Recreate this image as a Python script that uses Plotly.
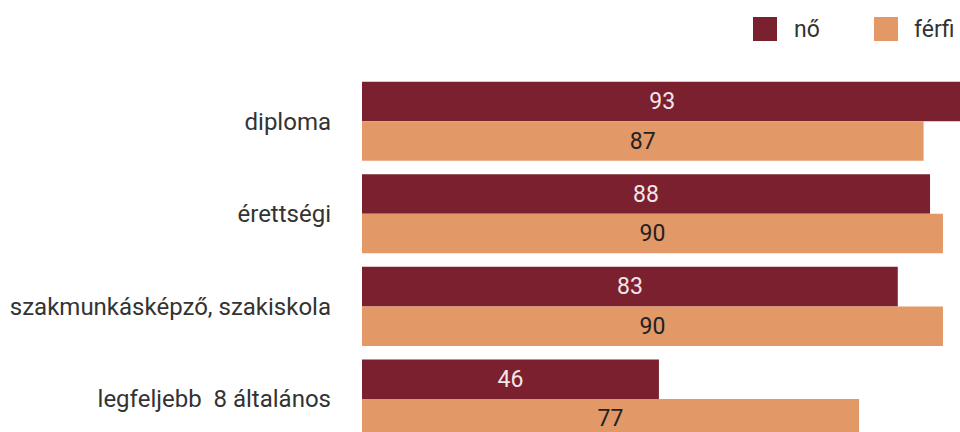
import plotly.graph_objects as go

categories = ["diploma", "érettségi", "szakmunkásképző, szakiskola", "legfeljebb \u00a08 általános"]
series_names = ["nő", "férfi"]
no_values = [93, 88, 83, 46]
ferfi_values = [87, 90, 90, 77]
colors = ["#7B202E", "#E29867"]
text_colors = ["#F3E6E8", "#222222"]

FONT = "Roboto, DejaVu Sans, sans-serif"
W, H = 960, 432
ML, MT = 362, 75
PW, PH = W - ML, H - MT

fig = go.Figure()
for name, vals, col, tcol in zip(series_names, [no_values, ferfi_values], colors, text_colors):
    fig.add_trace(go.Bar(
        y=categories, x=vals, name=name, orientation="h",
        marker=dict(color=col, line=dict(width=0)),
        text=vals, textposition="inside", insidetextanchor="middle",
        textfont=dict(size=23, color=tcol, family=FONT),
        showlegend=False, cliponaxis=True, hoverinfo="skip",
    ))

def px_x(X):
    return (X - ML) / PW

def px_y(Y):
    return (H - Y) / PH

# legend (squares + labels)
leg = [(753, 792, "nő", colors[0]), (874, 912, "férfi", colors[1])]
for sx, tx, label, col in leg:
    fig.add_shape(type="rect", xref="paper", yref="paper",
                  x0=px_x(sx), x1=px_x(sx + 24), y0=px_y(41), y1=px_y(17),
                  fillcolor=col, line=dict(width=0))
    fig.add_annotation(xref="paper", yref="paper", x=px_x(tx), y=px_y(29),
                       text=label, showarrow=False, xanchor="left", yanchor="middle",
                       font=dict(size=23, color="#333333", family=FONT))

fig.update_layout(
    width=W, height=H,
    margin=dict(l=ML, r=0, t=MT, b=0, pad=0),
    barmode="group", bargap=0.146, bargroupgap=0,
    plot_bgcolor="white", paper_bgcolor="white",
    uniformtext=dict(mode=False),
    xaxis=dict(range=[0, PW / 6.455], showgrid=False, zeroline=False,
               showticklabels=False, showline=False, ticks=""),
    yaxis=dict(range=[3.357, -0.5], categoryorder="array", categoryarray=categories,
               showgrid=False, zeroline=False, showline=False, ticks="",
               ticklabelstandoff=30,
               tickfont=dict(size=24, color="#333333", family=FONT)),
)

fig.write_html("out.html", config={"displayModeBar": False},
               post_script="document.body.style.margin='0';document.body.style.overflow='hidden';")
